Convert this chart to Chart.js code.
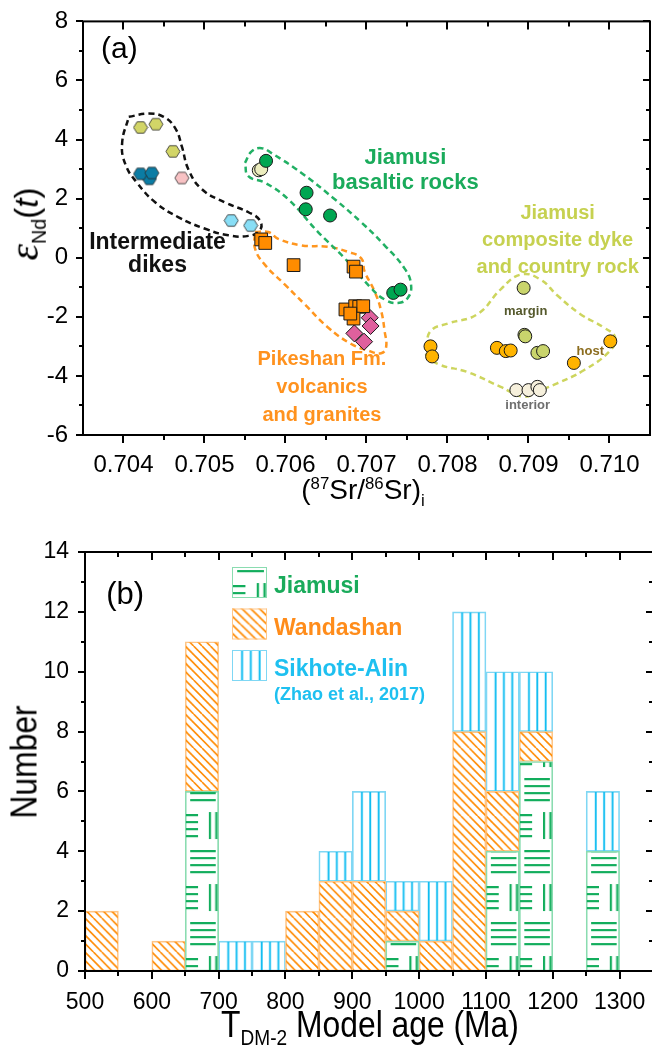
<!DOCTYPE html>
<html>
<head>
<meta charset="utf-8">
<script src="https://cdn.jsdelivr.net/npm/chart.js@4.4.1/dist/chart.umd.min.js"></script>
<style>
  html, body { margin: 0; padding: 0; background: #fff; width: 652px; height: 1046px; overflow: hidden; }
  canvas { position: absolute; left: 0; }
  #chartA { top: 0; }
  #chartB { top: 500px; }
  .ttl { position: absolute; font-family: 'Liberation Sans', Arial, sans-serif; color: #000; white-space: nowrap; line-height: 1; }
  .ttl sup, .ttl sub { font-size: 60%; }
  .rot { transform: translate(-50%, -50%) rotate(-90deg); }
  .ctr { transform: translateX(-50%); }
</style>
</head>
<body>
<canvas id="chartA" width="660" height="500"></canvas>
<canvas id="chartB" width="660" height="546"></canvas>
<div class="ttl rot" id="ytA" style="left:26px;top:224px;font-size:33px;"><span style="font-family:'Liberation Serif';font-style:italic;font-size:42px;">&epsilon;</span><sub>Nd</sub>(<i>t</i>)</div>
<div class="ttl ctr" id="xtA" style="left:363px;top:476px;font-size:28px;">(<sup>87</sup>Sr/<sup>86</sup>Sr)<sub>i</sub></div>
<div class="ttl rot narrow" id="ytB" style="left:24px;top:762px;font-size:37px;">Number</div>
<div class="ttl ctr narrow" id="xtB" style="left:370px;top:1006px;font-size:37px;">T<sub>DM-2</sub> Model age (Ma)</div>
<script>
// ---------- (a) Sr-Nd isotopes ----------
const srTicks = [0.704, 0.705, 0.706, 0.707, 0.708, 0.709, 0.710];
const ndTicks = [-6, -4, -2, 0, 2, 4, 6, 8];

const dikeYellowSr = [0.70421, 0.70440, 0.70461];
const dikeYellowNd = [4.41, 4.52, 3.60];
const dikeTealSr = [0.70432, 0.70421, 0.70435];
const dikeTealNd = [2.67, 2.84, 2.87];
const dikePinkSr = [0.70472];
const dikePinkNd = [2.70];
const dikeBlueSr = [0.70533, 0.70557];
const dikeBlueNd = [1.26, 1.09];
const basaltSr = [0.70576, 0.70626, 0.70625, 0.70655, 0.70733, 0.70742];
const basaltNd = [3.28, 2.20, 1.64, 1.43, -1.19, -1.08];
const basaltPaleSr = [0.70567, 0.70570];
const basaltPaleNd = [2.96, 3.00];
const pikeshanSr = [0.70570, 0.70575, 0.70610, 0.70684, 0.70687, 0.70674, 0.70686, 0.70691, 0.70696, 0.70684, 0.70680];
const pikeshanNd = [0.62, 0.50, -0.25, -0.30, -0.47, -1.75, -1.64, -1.66, -1.64, -2.06, -1.89];
const graniteSr = [0.70704, 0.70705, 0.70685, 0.70697];
const graniteNd = [-2.03, -2.31, -2.56, -2.84];
const hostSr = [0.70779, 0.70781, 0.70861, 0.70872, 0.70878, 0.70956, 0.71001];
const hostNd = [-3.00, -3.34, -3.05, -3.16, -3.14, -3.56, -2.83];
const marginSr = [0.70894, 0.70895, 0.70896, 0.70911, 0.70918];
const marginNd = [-1.02, -2.61, -2.66, -3.22, -3.16];
const interiorSr = [0.70885, 0.70900, 0.70911, 0.70914];
const interiorNd = [-4.48, -4.48, -4.37, -4.48];

// field outlines
const dikeFieldSr = [0.704065, 0.704311, 0.704496, 0.70464, 0.70472, 0.704803, 0.704967, 0.705255, 0.705543, 0.705685, 0.705685, 0.705543, 0.705295, 0.705009, 0.70468, 0.704394, 0.704167, 0.704025, 0.703983];
const dikeFieldNd = [4.77, 4.88, 4.77, 4.38, 3.77, 2.98, 2.32, 1.87, 1.54, 1.26, 0.93, 0.74, 0.76, 0.98, 1.37, 1.87, 2.54, 3.15, 3.88];
const basaltFieldSr = [0.7055, 0.705582, 0.705705, 0.705828, 0.706197, 0.706608, 0.706935, 0.707223, 0.707469, 0.70755, 0.707509, 0.707386, 0.707223, 0.707058, 0.706731, 0.706402, 0.706033, 0.705747, 0.705541];
const basaltFieldNd = [3.21, 3.60, 3.71, 3.54, 2.87, 1.98, 1.20, 0.42, -0.36, -0.91, -1.36, -1.53, -1.41, -1.03, -0.02, 0.87, 1.98, 2.54, 2.76];
const pikeFieldSr = [0.705624, 0.705787, 0.70591, 0.706197, 0.706525, 0.706771, 0.706935, 0.706977, 0.7071, 0.707181, 0.707223, 0.707242, 0.707181, 0.707017, 0.706812, 0.706525, 0.706239, 0.705993, 0.705747, 0.705624];
const pikeFieldNd = [0.87, 0.87, 0.64, 0.42, 0.37, 0.20, -0.02, -0.47, -1.14, -1.80, -2.47, -3.03, -3.23, -3.14, -2.92, -2.36, -1.58, -0.91, -0.24, 0.31];
const dykeFieldSr = [0.707733, 0.707795, 0.708001, 0.70837, 0.708657, 0.708903, 0.709149, 0.709354, 0.709641, 0.709929, 0.710071, 0.71001, 0.709683, 0.709354, 0.709149, 0.708944, 0.708657, 0.708247, 0.707878, 0.707733];
const dykeFieldNd = [-3.03, -2.47, -2.23, -1.91, -1.07, -0.57, -0.74, -1.27, -1.91, -2.36, -2.70, -3.14, -3.81, -4.25, -4.48, -4.70, -4.37, -3.87, -3.59, -3.25];

// ---------- (b) T_DM-2 histogram ----------
const ageTicks = [500, 600, 700, 800, 900, 1000, 1100, 1200, 1300];
const countTicks = [0, 2, 4, 6, 8, 10, 12, 14];
const ageBins = [525, 575, 625, 675, 725, 775, 825, 875, 925, 975, 1025, 1075, 1125, 1175, 1225, 1275];
const jiamusiCounts = [0, 0, 0, 6, 0, 0, 0, 0, 0, 1, 0, 0, 4, 7, 0, 4];
const wandashanCounts = [2, 0, 1, 5, 0, 0, 2, 3, 3, 1, 1, 8, 2, 1, 0, 0];
const sikhoteCounts = [0, 0, 0, 0, 1, 1, 0, 1, 3, 1, 2, 4, 4, 2, 0, 2];

// ---------- fonts ----------
function hasFont(name) {
  const g = document.createElement('canvas').getContext('2d');
  const s = 'mmmmwwwiiil0123456789';
  g.font = '40px monospace';
  const w0 = g.measureText(s).width;
  g.font = `40px '${name}', monospace`;
  return g.measureText(s).width !== w0;
}
const SANS = "'Liberation Sans', Arial, sans-serif";
const narrowOK = hasFont('Liberation Sans Narrow');
const NARROW = narrowOK ? "'Liberation Sans Narrow', 'Liberation Sans', Arial, sans-serif" : SANS;
document.querySelectorAll('.narrow').forEach(el => {
  el.style.fontFamily = NARROW;
  if (!narrowOK) {
    el.style.transform = el.classList.contains('rot')
      ? 'translate(-50%, -50%) rotate(-90deg) scaleX(0.86)'
      : 'translateX(-50%) scaleX(0.86)';
  }
});

const pts = (xs, ys) => xs.map((x, i) => ({ x, y: ys[i] }));
const loop = (xs, ys) => { const p = pts(xs, ys); p.push(p[0]); return p; };
const mids = arr => arr.slice(1).map((v, i) => (v + arr[i]) / 2);

// frame with outward ticks on bottom/left and inward ticks on top/right
function framePlugin(xMajor, xMinor, yMajor, yMinor) {
  return {
    id: 'frame',
    afterDraw(chart) {
      const { ctx, chartArea: a, scales: { x, y } } = chart;
      ctx.save();
      ctx.strokeStyle = '#000';
      ctx.lineWidth = 2;
      ctx.strokeRect(a.left, a.top, a.right - a.left, a.bottom - a.top);
      ctx.beginPath();
      const tx = (v, len) => {
        const p = Math.round(x.getPixelForValue(v));
        ctx.moveTo(p, a.bottom); ctx.lineTo(p, a.bottom + len);
        ctx.moveTo(p, a.top); ctx.lineTo(p, a.top + len);
      };
      const ty = (v, len) => {
        const p = Math.round(y.getPixelForValue(v));
        ctx.moveTo(a.left, p); ctx.lineTo(a.left - len, p);
        ctx.moveTo(a.right, p); ctx.lineTo(a.right - len, p);
      };
      xMajor.forEach(v => tx(v, 8));
      xMinor.forEach(v => tx(v, 5));
      yMajor.forEach(v => ty(v, 7));
      yMinor.forEach(v => ty(v, 4));
      ctx.stroke();
      ctx.restore();
    }
  };
}

// text notes placed in data coordinates
function notesPlugin(notes) {
  return {
    id: 'notes',
    afterDraw(chart) {
      const { ctx, scales: { x, y } } = chart;
      ctx.save();
      ctx.textAlign = 'center';
      ctx.textBaseline = 'alphabetic';
      notes.forEach(n => {
        ctx.font = `${n.weight} ${n.size}px ${n.family || SANS}`;
        ctx.fillStyle = n.color;
        const px = x.getPixelForValue(n.x), py = y.getPixelForValue(n.y);
        n.lines.forEach((t, i) => ctx.fillText(t, px, py + i * n.lh));
      });
      ctx.restore();
    }
  };
}

function hexagon(fill) {
  const c = document.createElement('canvas');
  c.width = 16; c.height = 15;
  const g = c.getContext('2d');
  g.beginPath();
  for (let k = 0; k < 6; k++) {
    const t = Math.PI / 3 * k;
    const px = 8 + 7 * Math.cos(t), py = 7.5 + 6.6 * Math.sin(t);
    k ? g.lineTo(px, py) : g.moveTo(px, py);
  }
  g.closePath();
  g.fillStyle = fill; g.fill();
  g.strokeStyle = '#2a2a2a'; g.lineWidth = 0.8; g.stroke();
  return c;
}

const mark = (label, data, style, fill, r) => ({
  label, data, pointStyle: style, pointRadius: r, backgroundColor: fill,
  borderColor: '#1a1a1a', borderWidth: 1, showLine: false
});
const field = (label, data, color) => ({
  label, data, showLine: true, pointRadius: 0, borderColor: color, borderWidth: 2.5,
  borderDash: [6, 4], tension: 0.45, fill: false
});

const notesA = [
  { lines: ['(a)'], x: 0.70395, y: 6.75, size: 30, weight: 'normal', color: '#000', lh: 0 },
  { lines: ['Jiamusi', 'basaltic rocks'], x: 0.70748, y: 3.19, size: 22, weight: 'bold', color: '#1aab5b', lh: 25 },
  { lines: ['Intermediate', 'dikes'], x: 0.70442, y: 0.28, size: 23, weight: 'bold', color: '#111', lh: 23 },
  { lines: ['Jiamusi', 'composite dyke', 'and country rock'], x: 0.70936, y: 1.32, size: 20, weight: 'bold', color: '#c6d150', lh: 27 },
  { lines: ['Pikeshan Fm.', 'volcanics', 'and granites'], x: 0.70645, y: -3.62, size: 20, weight: 'bold', color: '#ff921e', lh: 28 },
  { lines: ['margin'], x: 0.708965, y: -1.93, size: 13, weight: 'bold', color: '#55592c', lh: 0 },
  { lines: ['host'], x: 0.709763, y: -3.30, size: 13, weight: 'bold', color: '#8c6d1f', lh: 0 },
  { lines: ['interior'], x: 0.70899, y: -5.12, size: 13, weight: 'bold', color: '#6e6e6e', lh: 0 }
];

new Chart(document.getElementById('chartA'), {
  type: 'scatter',
  data: {
    datasets: [
      mark('dikes', pts(dikeYellowSr, dikeYellowNd), hexagon('#d2d567'), '#d2d567', 7),
      mark('dikes', pts(dikeTealSr, dikeTealNd), hexagon('#0b7ca4'), '#0b7ca4', 7),
      mark('dikes', pts(dikePinkSr, dikePinkNd), hexagon('#f8c2c4'), '#f8c2c4', 7),
      mark('dikes', pts(dikeBlueSr, dikeBlueNd), hexagon('#88def6'), '#88def6', 7),
      mark('basalt', pts(basaltSr, basaltNd), 'circle', '#00a651', 6.5),
      mark('basalt', pts(basaltPaleSr, basaltPaleNd), 'circle', '#ecedbe', 6.5),
      mark('pikeshan', pts(pikeshanSr, pikeshanNd), 'rect', '#ff8c00', 9),
      mark('granite', pts(graniteSr, graniteNd), 'rectRot', '#df609d', 8.5),
      mark('host', pts(hostSr, hostNd), 'circle', '#ffb400', 6.5),
      mark('margin', pts(marginSr, marginNd), 'circle', '#c9d46c', 6.5),
      mark('interior', pts(interiorSr, interiorNd), 'circle', '#f6f0dc', 6.5),
      field('dike field', loop(dikeFieldSr, dikeFieldNd), '#111'),
      field('basalt field', loop(basaltFieldSr, basaltFieldNd), '#22b064'),
      field('pikeshan field', loop(pikeFieldSr, pikeFieldNd), '#ff961f'),
      field('dyke field', loop(dykeFieldSr, dykeFieldNd), '#cdd55e')
    ]
  },
  options: {
    responsive: false,
    animation: false,
    layout: { padding: { top: 16, right: 7, left: 0, bottom: 0 } },
    plugins: { legend: { display: false }, tooltip: { enabled: false } },
    scales: {
      x: {
        type: 'linear', min: 0.7035, max: 0.7105,
        grid: { display: false }, border: { display: false },
        afterBuildTicks: s => { s.ticks = srTicks.map(v => ({ value: v })); },
        afterFit: s => { s.height = 65; },
        ticks: { color: '#000', padding: 8, maxRotation: 0, font: { family: SANS, size: 24 }, callback: v => v.toFixed(3) }
      },
      y: {
        type: 'linear', min: -6, max: 8,
        grid: { display: false }, border: { display: false },
        afterBuildTicks: s => { s.ticks = ndTicks.map(v => ({ value: v })); },
        afterFit: s => { s.width = 83; },
        ticks: { color: '#000', padding: 7, font: { family: SANS, size: 24 } }
      }
    }
  },
  plugins: [
    framePlugin(srTicks, mids(srTicks), ndTicks, mids(ndTicks)),
    notesPlugin(notesA)
  ]
});

// ---------- hatch patterns for (b) ----------
const TILE = 34;
function tile(kind) {
  const c = document.createElement('canvas');
  const g = c.getContext('2d');
  if (kind === 'J') {
    c.width = TILE; c.height = 72;
    g.fillStyle = '#12ad5c';
    [1, 8, 15, 22].forEach(v => g.fillRect(5, v - 1, 26, 2.2));
    [37, 44, 51, 58].forEach(v => g.fillRect(0, v - 1, 13, 2.2));
    g.fillRect(24, 34, 2.2, 27);
    g.fillRect(30.5, 34, 2.2, 27);
  } else if (kind === 'W') {
    c.width = TILE; c.height = TILE;
    g.strokeStyle = '#ff8a00';
    g.lineWidth = 1.6;
    g.beginPath();
    for (let k = -4; k <= 4; k++) {
      const o = k * 8.5;
      g.moveTo(o, 0); g.lineTo(o + TILE, TILE);
    }
    g.stroke();
  } else {
    c.width = TILE; c.height = 4;
    g.fillStyle = '#0fbdf1';
    [9.7, 18.2, 26.7].forEach(v => g.fillRect(v - 0.9, 0, 1.9, 4));
  }
  return c;
}
const tiles = { J: tile('J'), W: tile('W'), S: tile('S') };
function patternFill(chart, kind, x0, y0, w) {
  const p = chart.ctx.createPattern(tiles[kind], 'repeat');
  p.setTransform(new DOMMatrix([w / TILE, 0, 0, 1, x0, y0]));
  return p;
}
const barFill = kind => c => {
  const { x, y } = c.chart.scales;
  const x0 = x.getPixelForValue(ageTicks[0]);
  const w = x.getPixelForValue(ageBins[1]) - x.getPixelForValue(ageBins[0]);
  return patternFill(c.chart, kind, x0, y.getPixelForValue(0) - 121, w);
};
const bars = (label, counts, kind, border) => ({
  label, data: ageBins.map((x, i) => ({ x, y: counts[i] || null })),
  backgroundColor: barFill(kind), borderColor: border, borderWidth: 1, borderSkipped: false,
  barPercentage: 1, categoryPercentage: 1
});

const legendItems = [
  { kind: 'J', label: 'Jiamusi', color: '#1aab5b', border: '#8adcb0' },
  { kind: 'W', label: 'Wandashan', color: '#ff8c1a', border: '#ffc688' },
  { kind: 'S', label: 'Sikhote-Alin', color: '#1ec0f0', border: '#7fd7f4' }
];
const legendB = {
  id: 'legendB',
  afterDraw(chart) {
    const { ctx, chartArea: a } = chart;
    ctx.save();
    legendItems.forEach((it, i) => {
      const bx = a.left + 147, by = a.top + 15 + i * 41.5, bw = 35, bh = 31;
      ctx.fillStyle = '#fff';
      ctx.fillRect(bx, by, bw, bh);
      ctx.fillStyle = patternFill(chart, it.kind, bx, by - 18, bw);
      ctx.fillRect(bx, by, bw, bh);
      ctx.strokeStyle = it.border;
      ctx.lineWidth = 1;
      ctx.strokeRect(bx + 0.5, by + 0.5, bw - 1, bh - 1);
      ctx.fillStyle = it.color;
      ctx.font = `bold 23px ${SANS}`;
      ctx.textAlign = 'left';
      ctx.textBaseline = 'alphabetic';
      ctx.fillText(it.label, bx + 42, by + 26);
      if (it.kind === 'S') {
        ctx.font = `bold 18px ${SANS}`;
        ctx.fillText('(Zhao et al., 2017)', bx + 42, by + 50);
      }
    });
    ctx.restore();
  }
};

const tickSizeB = narrowOK ? 26 : 23;
new Chart(document.getElementById('chartB'), {
  type: 'bar',
  data: {
    datasets: [
      bars('Jiamusi', jiamusiCounts, 'J', '#8adcb0'),
      bars('Wandashan', wandashanCounts, 'W', '#ffc688'),
      bars('Sikhote-Alin', sikhoteCounts, 'S', '#7fd7f4')
    ]
  },
  options: {
    responsive: false,
    animation: false,
    layout: { padding: { top: 52, right: 7, left: 0, bottom: 0 } },
    plugins: { legend: { display: false }, tooltip: { enabled: false } },
    scales: {
      x: {
        type: 'linear', min: 500, max: 1350, offset: false, stacked: true,
        grid: { display: false }, border: { display: false },
        afterBuildTicks: s => { s.ticks = ageTicks.map(v => ({ value: v })); },
        afterFit: s => { s.height = 75; },
        ticks: { color: '#000', padding: 10, maxRotation: 0, font: { family: NARROW, size: tickSizeB }, callback: v => String(v) }
      },
      y: {
        type: 'linear', min: 0, max: 14, stacked: true,
        grid: { display: false }, border: { display: false },
        afterBuildTicks: s => { s.ticks = countTicks.map(v => ({ value: v })); },
        afterFit: s => { s.width = 85; },
        ticks: { color: '#000', padding: 8, font: { family: NARROW, size: tickSizeB } }
      }
    }
  },
  plugins: [
    framePlugin(ageTicks, mids(ageTicks), countTicks, mids(countTicks)),
    notesPlugin([{ lines: ['(b)'], x: 560, y: 12.25, size: 31, weight: 'normal', color: '#000', lh: 0 }]),
    legendB
  ]
});
</script>
</body>
</html>
